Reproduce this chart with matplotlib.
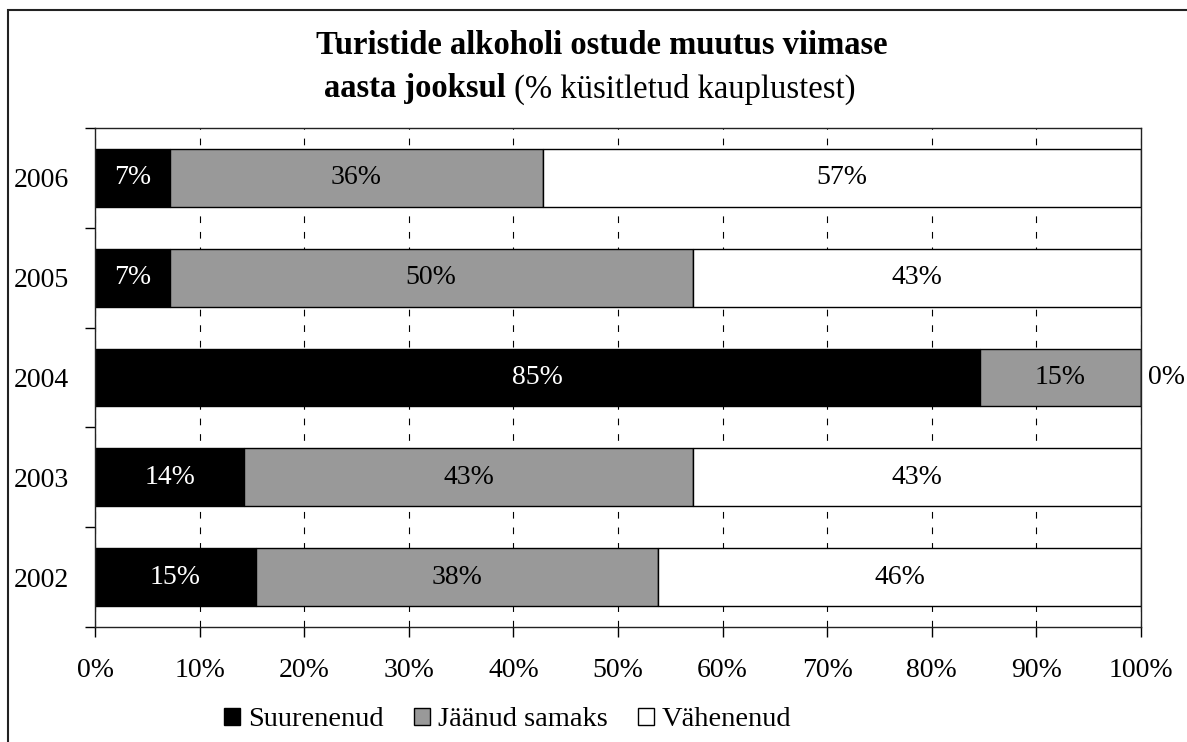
import matplotlib
matplotlib.use("Agg")
import matplotlib.pyplot as plt
from matplotlib.patches import Rectangle
from matplotlib.offsetbox import TextArea, HPacker, AnchoredOffsetbox

plt.rcParams['font.family'] = ['Liberation Serif', 'DejaVu Serif']

# andmed (% küsitletud kauplustest)
years = ['2002', '2003', '2004', '2005', '2006']
suurenenud = [15.38, 14.29, 84.62, 7.14, 7.14]
jaanud = [38.46, 42.86, 15.38, 50.0, 35.71]
vahenenud = [46.15, 42.86, 0.0, 42.86, 57.14]
series_names = ['Suurenenud', 'Jäänud samaks', 'Vähenenud']
xticks = [0, 10, 20, 30, 40, 50, 60, 70, 80, 90, 100]

colors = ['black', '#999999', 'white']
text_colors = ['white', 'black', 'black']

W, H = 1187, 742
fig = plt.figure(figsize=(W / 100, H / 100), dpi=100)
ax = fig.add_axes([95 / W, 1 - 627 / H, (1141 - 95) / W, (627 - 128) / H])

ypos = list(range(len(years)))
left = [0.0] * len(years)
for vals, name, col, tcol in zip([suurenenud, jaanud, vahenenud], series_names, colors, text_colors):
    ax.barh(ypos, vals, left=left, height=0.58, color=col,
            edgecolor='black', linewidth=1.0, label=name, zorder=2)
    for y, l, v in zip(ypos, left, vals):
        if v > 0:
            ax.text(l + v / 2, y, f'{v:.0f}%', ha='center', va='center',
                    color=tcol, fontsize=20, zorder=3)
        else:
            ax.annotate(f'{v:.0f}%', (l, y), xytext=(5, 0), textcoords='offset points',
                        ha='left', va='center', fontsize=20, annotation_clip=False)
    left = [a + b for a, b in zip(left, vals)]

ax.set_xlim(0, 100)
ax.set_ylim(-0.5, len(years) - 0.5)
ax.set_xticks(xticks)
ax.set_xticklabels([f'{t}%' for t in xticks], fontsize=20)
ax.tick_params(axis='x', direction='out', length=7, width=1, pad=15)

ax.set_yticks([i - 0.5 for i in range(len(years) + 1)])
ax.set_yticklabels([])
ax.set_yticks(ypos, minor=True)
ax.set_yticklabels(years, minor=True, fontsize=20)
ax.tick_params(axis='y', which='major', direction='out', length=7, width=1)
ax.tick_params(axis='y', which='minor', length=0, pad=19)

ax.xaxis.grid(True, linestyle=(0, (6, 8)), color='black', linewidth=0.8)
ax.set_axisbelow(True)
for s in ax.spines.values():
    s.set_linewidth(1.0)
    s.set_color('#222222')

# pealkiri
fig.text(602 / W, 1 - 46 / H, 'Turistide alkoholi ostude muutus viimase',
         ha='center', va='center', fontsize=23.5, fontweight='bold')
t1 = TextArea('aasta jooksul', textprops=dict(fontsize=23.5, fontweight='bold'))
t2 = TextArea(' (% küsitletud kauplustest)', textprops=dict(fontsize=23.5))
box = HPacker(children=[t1, t2], align='baseline', pad=0, sep=0)
anch = AnchoredOffsetbox(loc='center', child=box, frameon=False, pad=0, borderpad=0,
                         bbox_to_anchor=(590 / W, 1 - 89 / H), bbox_transform=fig.transFigure)
fig.add_artist(anch)

fig.legend(loc='center', bbox_to_anchor=(508 / W, 1 - 720 / H), ncol=3, frameon=False,
           fontsize=20.5, handlelength=0.55, handleheight=0.55, handletextpad=0.3,
           columnspacing=1.05)

# raam
fig.add_artist(Rectangle((8 / W, -0.2), 1.3, 1.2 - 10 / H, transform=fig.transFigure,
                         fill=False, edgecolor='#222222', linewidth=1.5))

fig.savefig('out.png', dpi=100)
